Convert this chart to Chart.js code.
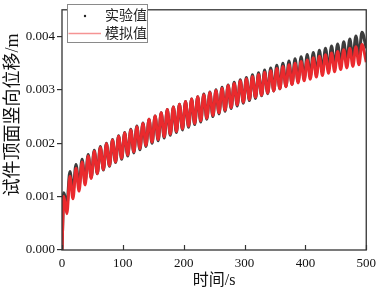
<!DOCTYPE html>
<html><head><meta charset="utf-8">
<script src="https://cdn.jsdelivr.net/npm/chart.js@4"></script>
<style>html,body{margin:0;padding:0;background:#fff}#wrap{width:382px;height:290px}</style>
</head><body><div id="wrap"><canvas id="c" width="382" height="290"></canvas></div>
<script>
// time (s): start, then alternating peaks / troughs, end
const timeSec = [0,3,8,13,18,23,28,33,38,43,48,53,58,63,68,73,78,83,88,93,98,103,108,113,118,123,128,133,138,143,148,153,158,163,168,173,178,183,188,193,198,203,208,213,218,223,228,233,238,243,248,253,258,263,268,273,278,283,288,293,298,303,308,313,318,323,328,333,338,343,348,353,358,363,368,373,378,383,388,393,398,403,408,413,418,423,428,433,438,443,448,453,458,463,468,473,478,483,488,493,500];
// 实验值 (m)
const expDisp = [0,
0.00107,0.00084,0.00147,0.00110,0.00160,0.00120,0.00170,0.00128,0.00179,0.00136,
0.00187,0.00143,0.00194,0.00150,0.00200,0.00157,0.00207,0.00164,0.00214,0.00170,
0.00220,0.00176,0.00226,0.00182,0.00232,0.00188,0.00238,0.00194,0.00245,0.00200,
0.00251,0.00205,0.00257,0.00210,0.00263,0.00215,0.00268,0.00220,0.00273,0.00225,
0.00278,0.00230,0.00283,0.00235,0.00287,0.00240,0.00292,0.00245,0.00296,0.00250,
0.00300,0.00255,0.00305,0.00260,0.00309,0.00265,0.00314,0.00270,0.00319,0.00275,
0.00323,0.00280,0.00328,0.00284,0.00332,0.00289,0.00337,0.00293,0.00341,0.00298,
0.00346,0.00302,0.00350,0.00307,0.00354,0.00311,0.00358,0.00316,0.00362,0.00320,
0.00366,0.00325,0.00370,0.00329,0.00374,0.00334,0.00378,0.00338,0.00382,0.00343,
0.00386,0.00348,0.00390,0.00353,0.00395,0.00358,0.00401,0.00364,0.00408,0.00378];
// 模拟值 (m)
const simDisp = [0,
0.00100,0.00068,0.00138,0.00096,0.00153,0.00110,0.00165,0.00122,0.00176,0.00134,
0.00185,0.00143,0.00192,0.00151,0.00199,0.00158,0.00206,0.00165,0.00213,0.00172,
0.00219,0.00178,0.00225,0.00184,0.00231,0.00190,0.00237,0.00196,0.00245,0.00202,
0.00251,0.00207,0.00257,0.00212,0.00263,0.00217,0.00268,0.00222,0.00273,0.00227,
0.00278,0.00232,0.00283,0.00237,0.00287,0.00242,0.00291,0.00247,0.00295,0.00252,
0.00299,0.00257,0.00303,0.00262,0.00308,0.00267,0.00312,0.00272,0.00317,0.00277,
0.00321,0.00282,0.00325,0.00286,0.00329,0.00290,0.00333,0.00294,0.00336,0.00298,
0.00340,0.00302,0.00344,0.00306,0.00347,0.00310,0.00350,0.00313,0.00353,0.00317,
0.00356,0.00320,0.00360,0.00324,0.00363,0.00327,0.00366,0.00331,0.00369,0.00334,
0.00372,0.00338,0.00375,0.00341,0.00378,0.00344,0.00381,0.00347,0.00385,0.00352];
const seriesLabels = ['实验值','模拟值'];
const xTitle = '时间/s';
const yTitle = '试件顶面竖向位移/m';

const LATIN = "'Liberation Serif','Times New Roman',serif";
const CJK = "'Liberation Serif','Noto Sans CJK SC',serif";

const framePlugin = {
  id: 'frame',
  afterDraw(chart) {
    const {ctx, chartArea: a} = chart;
    const xs = chart.scales.x;
    ctx.save();
    ctx.strokeStyle = '#333';
    ctx.lineWidth = 1.3;
    ctx.strokeRect(a.left, a.top, a.right - a.left, a.bottom - a.top);
    ctx.lineWidth = 1.2;
    xs.ticks.forEach(t => {
      const px = Math.round(xs.getPixelForValue(t.value)) + 0.5;
      ctx.beginPath(); ctx.moveTo(px, a.bottom); ctx.lineTo(px, a.bottom - 5); ctx.stroke();
    });
    // y axis title
    ctx.save();
    ctx.translate(13.5, 115);
    ctx.rotate(-Math.PI / 2);
    ctx.font = "18px " + CJK;
    ctx.fillStyle = '#111';
    ctx.textAlign = 'center'; ctx.textBaseline = 'middle';
    ctx.fillText(yTitle, 0, 0);
    ctx.restore();
    // legend
    const bx = 67.5, by = 4.5, bw = 80, bh = 38;
    ctx.fillStyle = '#fff';
    ctx.fillRect(bx, by, bw, bh);
    ctx.strokeStyle = '#8a8a8a'; ctx.lineWidth = 1;
    ctx.strokeRect(bx, by, bw, bh);
    ctx.fillStyle = '#222';
    ctx.beginPath(); ctx.arc(85, 16, 1.2, 0, Math.PI * 2); ctx.fill();
    ctx.strokeStyle = 'rgba(236,60,60,0.55)'; ctx.lineWidth = 1.6;
    ctx.beginPath(); ctx.moveTo(68.5, 33.5); ctx.lineTo(101, 33.5); ctx.stroke();
    ctx.font = "14px " + CJK;
    ctx.textAlign = 'left'; ctx.textBaseline = 'middle';
    ctx.fillStyle = '#222';
    ctx.fillText(chart.data.datasets[0].label, 105, 16);
    ctx.fillText(chart.data.datasets[1].label, 105, 34);
    ctx.restore();
  }
};

new Chart(document.getElementById('c'), {
  type: 'line',
  data: {
    datasets: [
      { label: seriesLabels[0], data: timeSec.map((t, i) => ({x: t, y: expDisp[i]})),
        borderColor: '#3c3c3c', borderWidth: 3.1, pointRadius: 0, cubicInterpolationMode: 'monotone', order: 2 },
      { label: seriesLabels[1], data: timeSec.map((t, i) => ({x: t, y: simDisp[i]})),
        borderColor: '#ea2a2e', borderWidth: 3, pointRadius: 0, cubicInterpolationMode: 'monotone', order: 1 }
    ]
  },
  options: {
    responsive: false, animation: false, devicePixelRatio: 1,
    layout: {padding: {top: 4, right: 12, left: 0, bottom: 0}},
    plugins: {legend: {display: false}, tooltip: {enabled: false}},
    scales: {
      x: {
        type: 'linear', min: 0, max: 500,
        ticks: {stepSize: 100, font: {family: LATIN, size: 13}, color: '#111', padding: 6, maxRotation: 0},
        grid: {display: false, drawTicks: false},
        border: {display: false},
        title: {display: true, text: xTitle, font: {family: CJK, size: 16}, color: '#111', padding: {top: 0, bottom: 0}},
        afterFit(s) { s.height = 40; }
      },
      y: {
        type: 'linear', min: 0, max: 0.0045,
        ticks: {stepSize: 0.001, font: {family: LATIN, size: 13}, color: '#111', padding: 2,
                callback: v => v.toFixed(3)},
        afterBuildTicks(s) { s.ticks = s.ticks.filter(t => Math.abs(t.value * 1000 - Math.round(t.value * 1000)) < 1e-6); },
        grid: {display: true, drawOnChartArea: false, drawTicks: true, tickLength: 5, color: '#333', lineWidth: 1.2},
        border: {display: false},
        title: {display: false},
        afterFit(s) { s.width = 62; }
      }
    }
  },
  plugins: [framePlugin]
});
</script>
</body></html>
